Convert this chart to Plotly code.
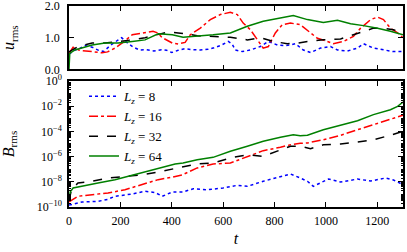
import plotly.graph_objects as go

# ---- upper panel: u_rms ----
t_u8 = [0, 20, 40, 62, 90, 115, 135, 160, 190, 205, 225, 250, 275, 300, 330, 360, 380, 400, 425, 450, 480,
        511, 540, 561, 590, 620, 635, 647, 674, 706, 745, 776, 811, 840, 862, 881, 912, 940, 979, 1018,
        1045, 1084, 1123, 1146, 1185, 1224, 1263, 1300]
u_8 = [0.48, 0.6, 0.65, 0.75, 0.7, 0.6, 0.56, 0.75, 0.92, 1.0, 0.85, 0.7, 0.61, 0.62, 0.58, 0.62, 0.6, 0.53,
       0.6, 0.65, 0.62, 0.61, 0.63, 0.67, 0.75, 0.88, 0.8, 0.61, 0.56, 0.61, 0.72, 0.88, 0.77, 0.75, 0.77,
       0.81, 0.61, 0.53, 0.67, 0.72, 0.61, 0.58, 0.67, 0.81, 0.67, 0.61, 0.56, 0.56]

t_u16 = [0, 16, 40, 74, 100, 129, 150, 179, 210, 246, 296, 327, 345, 363, 402, 425, 452, 472, 511, 550, 589,
         628, 655, 678, 706, 733, 756, 776, 803, 830, 862, 900, 932, 967, 1006, 1029, 1068, 1107, 1135,
         1174, 1201, 1224, 1251, 1279, 1300]
u_16 = [0.5, 0.7, 0.6, 0.56, 0.55, 0.52, 0.55, 0.67, 0.85, 1.09, 1.15, 1.2, 1.15, 1.0, 0.83, 0.8, 0.85, 1.09,
        1.3, 1.57, 1.73, 1.8, 1.73, 1.46, 1.25, 0.93, 0.67, 0.72, 1.15, 1.41, 1.46, 1.41, 1.2, 0.98, 0.88,
        0.81, 0.88, 1.04, 1.3, 1.57, 1.65, 1.57, 1.3, 1.15, 1.0]

t_u32 = [0, 35, 90, 140, 191, 246, 296, 347, 386, 425, 460, 499, 561, 628, 694, 745, 795, 850, 893, 928,
         990, 1057, 1107, 1146, 1185, 1224, 1263, 1300]
u_32 = [0.55, 0.72, 0.83, 0.83, 0.88, 0.93, 1.0, 1.09, 1.18, 1.15, 1.12, 1.06, 1.04, 1.01, 0.93, 1.0, 0.88,
        0.81, 0.83, 0.88, 0.93, 0.96, 1.09, 1.2, 1.3, 1.3, 1.25, 1.15]

t_u64 = [0, 3, 23, 90, 140, 191, 246, 296, 347, 402, 444, 499, 561, 628, 694, 756, 823, 873, 928, 990,
         1045, 1096, 1146, 1201, 1251, 1300]
u_64 = [0.0, 0.5, 0.61, 0.77, 0.83, 0.83, 0.88, 0.93, 1.12, 1.09, 1.01, 1.04, 1.09, 1.15, 1.36, 1.52, 1.62,
        1.7, 1.57, 1.48, 1.55, 1.44, 1.38, 1.3, 1.2, 1.09]

# ---- lower panel: log10(B_rms) ----
t_b8 = [0, 51, 113, 150, 179, 246, 296, 335, 363, 402, 444, 484, 538, 600, 655, 694, 756, 823, 862, 900,
        928, 951, 979, 1010, 1057, 1123, 1174, 1232, 1263, 1300]
logb_8 = [-9.85, -9.6, -9.55, -9.4, -9.15, -8.97, -8.75, -8.85, -9.15, -8.81, -8.8, -8.55, -8.63, -8.49,
          -8.28, -8.36, -7.96, -7.56, -7.38, -7.7, -7.96, -8.36, -8.1, -7.78, -8.02, -7.78, -7.94, -7.7,
          -7.86, -8.23]

t_b16 = [0, 35, 90, 152, 218, 285, 347, 402, 440, 499, 561, 628, 694, 756, 823, 862, 900, 928, 990, 1057,
         1123, 1185, 1251, 1300]
logb_16 = [-9.6, -9.15, -9.02, -8.89, -8.63, -8.23, -7.83, -7.64, -7.46, -6.9, -6.59, -6.51, -5.98, -5.53,
           -5.26, -5.06, -4.95, -4.92, -4.66, -4.31, -3.87, -3.47, -3.0, -2.72]

t_b32 = [0, 10, 35, 90, 152, 218, 285, 347, 402, 440, 499, 561, 628, 694, 756, 823, 862, 900, 940, 990,
         1057, 1123, 1185, 1251, 1300]
logb_32 = [-9.5, -8.6, -8.1, -7.96, -7.7, -7.56, -7.44, -7.22, -6.96, -6.83, -6.59, -6.51, -6.11, -5.85,
           -5.98, -5.45, -5.18, -5.18, -5.37, -5.06, -5.0, -4.84, -4.66, -4.31, -3.99]

t_b64 = [0, 5, 16, 62, 113, 179, 246, 308, 374, 413, 444, 499, 561, 628, 694, 756, 823, 873, 900, 928, 990,
         1057, 1123, 1185, 1251, 1279, 1300]
logb_64 = [-9.5, -8.8, -8.49, -8.28, -8.1, -7.83, -7.48, -7.17, -6.85, -6.59, -6.51, -6.25, -6.06, -5.58,
           -5.18, -4.79, -4.47, -4.26, -4.34, -4.3, -3.87, -3.52, -3.15, -2.67, -2.28, -2.02, -1.67]

labels = ["<i>L<sub>z</sub></i> = 8", "<i>L<sub>z</sub></i> = 16",
          "<i>L<sub>z</sub></i> = 32", "<i>L<sub>z</sub></i> = 64"]
x_ticks = [0, 200, 400, 600, 800, 1000, 1200]
u_ticks = [0.0, 1.0, 2.0]
b_tick_exps = [0, -2, -4, -6, -8, -10]

colors = ["#0000ff", "#ff0000", "#000000", "#008000"]
dashes = ["dot", "dashdot", "dash", "solid"]

FONT = "Liberation Serif"

fig = go.Figure()
u_series = [(t_u8, u_8), (t_u16, u_16), (t_u32, u_32), (t_u64, u_64)]
b_series = [(t_b8, logb_8), (t_b16, logb_16), (t_b32, logb_32), (t_b64, logb_64)]

for i, (tt, uu) in enumerate(u_series):
    fig.add_trace(go.Scatter(x=tt, y=uu, mode="lines", xaxis="x", yaxis="y",
                             line=dict(color=colors[i], dash=dashes[i], width=1.5),
                             showlegend=False))
for i, (tt, lb) in enumerate(b_series):
    fig.add_trace(go.Scatter(x=tt, y=[10 ** v for v in lb], mode="lines", xaxis="x2", yaxis="y2",
                             name=labels[i],
                             line=dict(color=colors[i], dash=dashes[i], width=1.5)))

axis_common = dict(showline=True, linecolor="black", linewidth=1.5, mirror="allticks",
                   ticks="inside", tickcolor="black", ticklen=5, showgrid=False, zeroline=False,
                   automargin=False, ticklabeloverflow="allow",
                   tickfont=dict(family=FONT, size=12, color="black"))

fig.update_layout(
    width=407, height=252,
    margin=dict(l=69, r=4, t=6, b=45),
    paper_bgcolor="white", plot_bgcolor="white",
    font=dict(family=FONT, size=12, color="black"),
    xaxis=dict(domain=[0, 1], range=[0, 1300], anchor="y", tickvals=x_ticks, showticklabels=False,
               **axis_common),
    yaxis=dict(domain=[0.685, 1], range=[0, 2], anchor="x", tickvals=u_ticks, tickformat=".1f",
               ticklabelstandoff=5,
               title=dict(text="<i>u</i><sub>rms</sub>", font=dict(family=FONT, size=16), standoff=26),
               **axis_common),
    xaxis2=dict(domain=[0, 1], range=[0, 1300], anchor="y2", tickvals=x_ticks, ticklabelstandoff=2,
                title=dict(text="<i>t</i>", font=dict(family=FONT, size=16), standoff=6),
                **axis_common),
    yaxis2=dict(domain=[0, 0.627], type="log", range=[-10, 0], anchor="x2",
                tickvals=[10 ** e for e in b_tick_exps],
                ticktext=["10<sup>%s</sup>" % (str(e) if e >= 0 else "−" + str(-e)) for e in b_tick_exps],
                ticklabelstandoff=3,
                minor=dict(ticks="inside", ticklen=2.5, tickcolor="black", dtick="D1"),
                title=dict(text="<i>B</i><sub>rms</sub>", font=dict(family=FONT, size=16), standoff=30),
                **axis_common),
    legend=dict(x=0.045, y=0.625, xanchor="left", yanchor="top", bgcolor="rgba(0,0,0,0)",
                font=dict(family=FONT, size=13), borderwidth=0, tracegroupgap=0),
)

fig.write_html("out.html", config={"displayModeBar": False},
               post_script="document.body.style.margin='0px';")
